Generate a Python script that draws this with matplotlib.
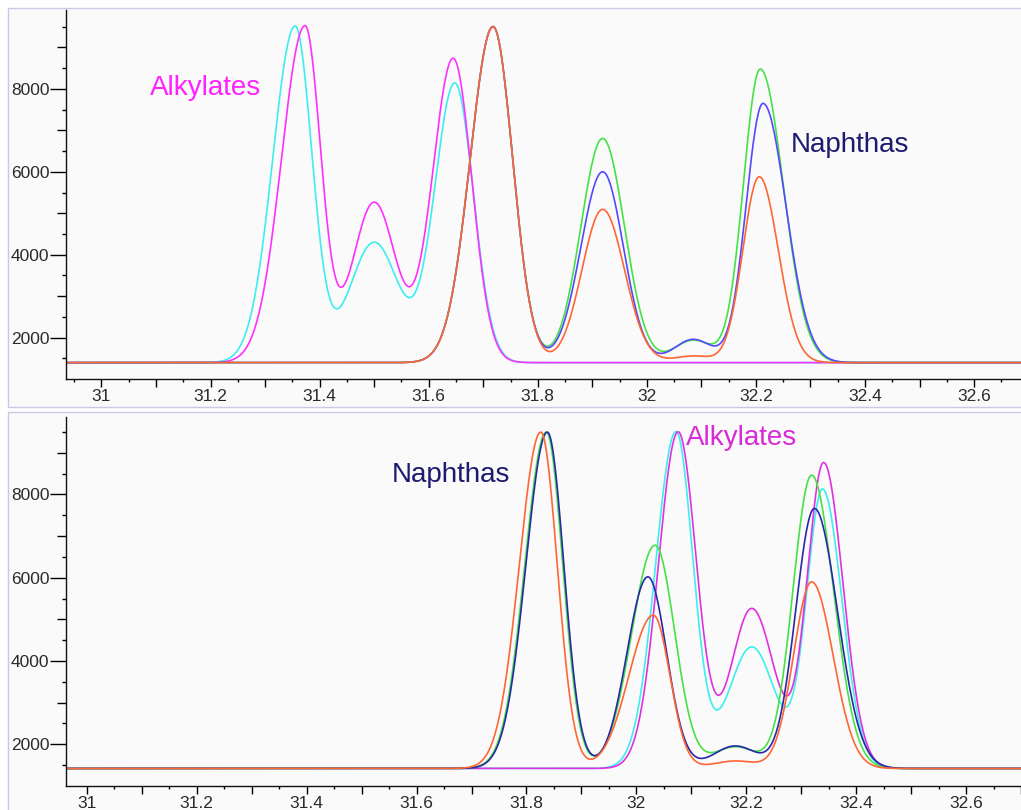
#!/usr/bin/env python3
"""
Overlaid GC traces of alkylates and naphthas, two retention windows
"""

import numpy as np
import matplotlib
matplotlib.use("Agg")
import matplotlib.pyplot as plt
from matplotlib.patches import Rectangle
from matplotlib.ticker import MultipleLocator, FuncFormatter

plt.rcParams['font.family'] = ['Liberation Sans', 'DejaVu Sans']

# Peak tables: (retention time, height above baseline,
# width on the leading side, width on the trailing side)
TOP_BASELINE = 1400
TOP_MAGENTA = [(31.373, 8100, 0.043, 0.029), (31.500, 3863, 0.040, 0.040),
               (31.645, 7333, 0.038, 0.034)]
TOP_CYAN = [(31.355, 8100, 0.041, 0.031), (31.500, 2900, 0.045, 0.045),
            (31.648, 6730, 0.037, 0.034)]
TOP_GREEN = [(31.718, 8100, 0.042, 0.036), (31.919, 5405, 0.040, 0.040),
             (32.085, 540, 0.035, 0.035), (32.208, 7075, 0.031, 0.042)]
TOP_BLUE = [(31.718, 8100, 0.042, 0.036), (31.919, 4600, 0.040, 0.038),
            (32.085, 560, 0.035, 0.035), (32.213, 6248, 0.031, 0.042)]
TOP_ORANGE = [(31.718, 8100, 0.042, 0.036), (31.919, 3694, 0.038, 0.040),
              (32.085, 160, 0.035, 0.035), (32.206, 4480, 0.030, 0.035)]

BOT_BASELINE = 1420
BOT_MAGENTA = [(32.076, 8076, 0.036, 0.033), (32.210, 3841, 0.038, 0.041),
               (32.341, 7323, 0.030, 0.035)]
BOT_CYAN = [(32.072, 8076, 0.037, 0.031), (32.210, 2919, 0.0425, 0.0425),
            (32.339, 6682, 0.029, 0.035)]
BOT_GREEN = [(31.836, 8076, 0.039, 0.030), (32.034, 5360, 0.0426, 0.036),
             (32.180, 520, 0.040, 0.040), (32.319, 7042, 0.034, 0.040)]
BOT_BLUE = [(31.838, 8076, 0.039, 0.030), (32.021, 4600, 0.038, 0.034),
            (32.180, 540, 0.040, 0.040), (32.324, 6242, 0.034, 0.042)]
BOT_ORANGE = [(31.826, 8076, 0.039, 0.030), (32.031, 3680, 0.0446, 0.030),
              (32.180, 180, 0.040, 0.040), (32.319, 4480, 0.033, 0.039)]

MAGENTA = '#ff30ff'
CYAN = '#3ceeee'
GREEN = '#44e244'
ORANGE = '#ff6633'
NAVY = '#1e1a6e'


def trace(x, peaks, base):
    """Baseline plus skewed gaussian peaks"""
    y = np.full_like(x, float(base))
    for c, h, s_lead, s_tail in peaks:
        s = np.where(x < c, s_lead, s_tail)
        y += h * np.exp(-0.5 * ((x - c) / s) ** 2)
    return y


def style_axes(ax, xlim, ylim):
    ax.set_xlim(*xlim)
    ax.set_ylim(*ylim)
    ax.set_facecolor('none')
    for side in ['top', 'right']:
        ax.spines[side].set_visible(False)
    for side in ['left', 'bottom']:
        ax.spines[side].set_linewidth(1.0)
        ax.spines[side].set_color('#111111')

    # x: ticks every 0.1, small ones every 0.05, labels every 0.2
    ax.xaxis.set_major_locator(MultipleLocator(0.1))
    ax.xaxis.set_minor_locator(MultipleLocator(0.05))
    ax.xaxis.set_major_formatter(FuncFormatter(
        lambda v, p: '%g' % round(v, 1) if abs(v * 5 - round(v * 5)) < 1e-6 else ''))
    ax.tick_params(axis='x', which='major', length=5.8, width=1, pad=1.5,
                   labelsize=12.5, labelcolor='#2a2a2a')
    ax.tick_params(axis='x', which='minor', length=2.5, width=1)

    # y: labelled every 2000, medium every 1000, small every 500
    yt = [2000, 3000, 4000, 5000, 6000, 7000, 8000, 9000]
    ax.set_yticks(yt)
    ax.set_yticklabels([str(v) if v % 2000 == 0 else '' for v in yt])
    ax.yaxis.set_minor_locator(MultipleLocator(500))
    ax.tick_params(axis='y', which='major', length=11.5, width=1, pad=0.5,
                   labelsize=12.5, labelcolor='#2a2a2a')
    ax.tick_params(axis='y', which='minor', length=3, width=1)
    for v, t in zip(yt, ax.yaxis.get_major_ticks()):
        if v % 2000:
            t.tick1line.set_markersize(6.5)


fig = plt.figure(figsize=(10.21, 8.10), dpi=100)

# panel frames
for y0, y1 in [(8, 407), (412, 820)]:
    fig.add_artist(Rectangle((7.5 / 1021, 1 - y1 / 810), 1.2, (y1 - y0) / 810,
                             transform=fig.transFigure, facecolor='#fafafa',
                             edgecolor='#c9c9e6', linewidth=1.0, zorder=0))

ax1 = fig.add_axes([66 / 1021, 1 - 379 / 810, 955 / 1021, 369 / 810])
ax2 = fig.add_axes([66 / 1021, 1 - 785.7 / 810, 955 / 1021, 369 / 810])

x1 = np.linspace(30.93, 32.69, 2000)
x2 = np.linspace(30.96, 32.70, 2000)
lw = 1.2

ax1.plot(x1, trace(x1, TOP_CYAN, TOP_BASELINE), color=CYAN, lw=lw)
ax1.plot(x1, trace(x1, TOP_MAGENTA, TOP_BASELINE), color=MAGENTA, lw=lw)
ax1.plot(x1, trace(x1, TOP_GREEN, TOP_BASELINE), color=GREEN, lw=lw)
ax1.plot(x1, trace(x1, TOP_BLUE, TOP_BASELINE), color='#5548ff', lw=lw)
ax1.plot(x1, trace(x1, TOP_ORANGE, TOP_BASELINE), color=ORANGE, lw=lw)

ax2.plot(x2, trace(x2, BOT_CYAN, BOT_BASELINE), color=CYAN, lw=lw)
ax2.plot(x2, trace(x2, BOT_MAGENTA, BOT_BASELINE), color='#e030e0', lw=lw)
ax2.plot(x2, trace(x2, BOT_GREEN, BOT_BASELINE), color=GREEN, lw=lw)
ax2.plot(x2, trace(x2, BOT_BLUE, BOT_BASELINE), color='#2828a8', lw=lw)
ax2.plot(x2, trace(x2, BOT_ORANGE, BOT_BASELINE), color=ORANGE, lw=lw)

style_axes(ax1, (30.935, 32.686), (1005, 9900))
style_axes(ax2, (30.962, 32.700), (1006, 9866))

ax1.text(31.089, 7848, 'Alkylates', color='#ff22ff', fontsize=20)
ax1.text(32.263, 6482, 'Naphthas', color=NAVY, fontsize=20)
ax2.text(31.554, 8305, 'Naphthas', color=NAVY, fontsize=20)
ax2.text(32.091, 9186, 'Alkylates', color='#d82ad8', fontsize=20)

fig.savefig('out.png', dpi=100)
